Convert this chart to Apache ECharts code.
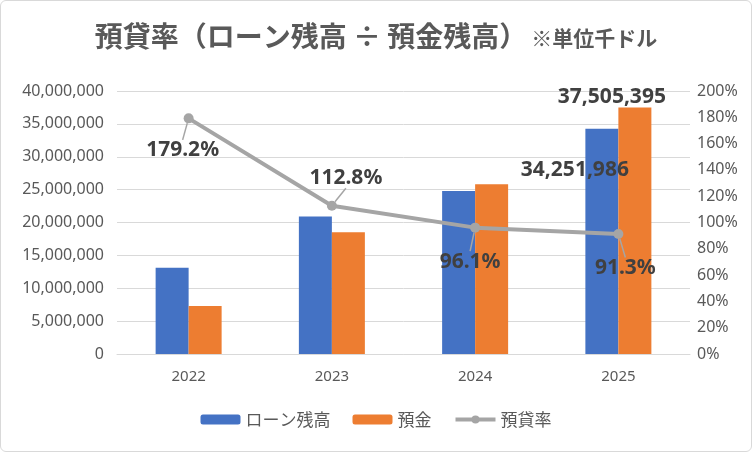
<!DOCTYPE html>
<html>
<head>
<meta charset="utf-8">
<script src="https://cdn.jsdelivr.net/npm/echarts@6/dist/echarts.min.js"></script>
<style>
  html, body { margin: 0; padding: 0; background: #fff; }
  #chart01 { width: 750px; height: 450px; border: 1px solid #d9d9d9; border-radius: 6px; }
</style>
</head>
<body>
<div id="chart01"></div>
<script>
var years    = ['2022', '2023', '2024', '2025'];
var loans    = [13100000, 20900000, 24800000, 34251986];
var deposits = [7310000, 18530000, 25800000, 37505395];
var ratios   = [179.2, 112.8, 96.1, 91.3];

var jpFont  = '"Noto Sans CJK JP", "Noto Sans", sans-serif';
var numFont = '"Noto Sans", "Noto Sans CJK JP", sans-serif';

// per point label placement (dx, dy from point)
var ratioLabelMove = [[-6, 32], [14, -28], [-5, 34], [7, 34]];

var ratioData = [];
ratios.forEach(function (v, i) {
    ratioData.push({ value: v });
});

var loanData = loans.map(function (v, i) {
    if (i === loans.length - 1) {
        return { value: v, label: { show: true, position: 'top', offset: [-27, 57] } };
    }
    return v;
});
var depositData = deposits.map(function (v, i) {
    if (i === deposits.length - 1) {
        return { value: v, label: { show: true, position: 'top', offset: [-23, 5] } };
    }
    return v;
});

var cha01 = echarts.init(document.getElementById('chart01'));
var opt01 = {
    animation: false,
    title: {
        text: '{a|預貸率（ローン残高 ÷ 預金残高）}{b|※単位千ドル}',
        left: 'center',
        top: 16,
        textStyle: {
            rich: {
                a: { fontFamily: jpFont, fontSize: 28, fontWeight: 'bold', color: '#595959' },
                b: { fontFamily: jpFont, fontSize: 21, color: '#595959', padding: [5, 0, 0, 4] }
            }
        }
    },
    legend: {
        bottom: 18,
        left: 'center',
        itemWidth: 40,
        itemHeight: 10,
        itemGap: 22,
        textStyle: { fontFamily: jpFont, fontSize: 17, color: '#595959' },
        data: [
            { name: 'ローン残高' },
            { name: '預金' },
            { name: '預貸率', lineStyle: { width: 4 } }
        ]
    },
    grid: { left: 116, right: 61, top: 90, bottom: 97 },
    xAxis: {
        type: 'category',
        data: years,
        axisTick: { show: false },
        axisLine: { lineStyle: { color: '#d9d9d9' } },
        axisLabel: { fontFamily: numFont, fontSize: 15, color: '#595959', margin: 15 }
    },
    yAxis: [
        {
            type: 'value',
            min: 0,
            max: 40000000,
            interval: 5000000,
            axisLine: { show: false },
            axisTick: { show: false },
            splitLine: { lineStyle: { color: '#d9d9d9' } },
            axisLabel: {
                fontFamily: numFont, fontSize: 16, color: '#595959', margin: 13,
                formatter: function (v) { return v.toLocaleString('en-US'); }
            }
        },
        {
            type: 'value',
            min: 0,
            max: 200,
            interval: 20,
            axisLine: { show: false },
            axisTick: { show: false },
            splitLine: { show: false },
            axisLabel: {
                fontFamily: numFont, fontSize: 16, color: '#595959', margin: 7,
                formatter: '{value}%'
            }
        }
    ],
    series: [
        {
            name: 'ローン残高',
            type: 'bar',
            barWidth: 33,
            barGap: '0%',
            itemStyle: { color: '#4472c4' },
            label: {
                show: false,
                fontFamily: numFont, fontSize: 21, fontWeight: 'bold', color: '#404040',
                formatter: function (d) { return d.value.toLocaleString('en-US'); }
            },
            data: loanData
        },
        {
            name: '預金',
            type: 'bar',
            barWidth: 33,
            barGap: '0%',
            itemStyle: { color: '#ed7d31' },
            label: {
                show: false,
                fontFamily: numFont, fontSize: 21, fontWeight: 'bold', color: '#404040',
                formatter: function (d) { return d.value.toLocaleString('en-US'); }
            },
            data: depositData
        },
        {
            name: '預貸率',
            type: 'line',
            yAxisIndex: 1,
            symbol: 'circle',
            symbolSize: 10,
            itemStyle: { color: '#a5a5a5' },
            lineStyle: { color: '#a5a5a5', width: 4 },
            label: {
                show: true,
                position: 'inside',
                fontFamily: numFont, fontSize: 21, fontWeight: 'bold', color: '#404040',
                formatter: function (d) { return d.value.toFixed(1) + '%'; }
            },
            labelLine: { show: true, lineStyle: { color: '#a5a5a5', width: 1.5 } },
            labelLayout: function (params) {
                var m = ratioLabelMove[params.dataIndex];
                return { dx: m[0], dy: m[1] };
            },
            data: ratioData
        }
    ]
};
cha01.setOption(opt01);
</script>
</body>
</html>
